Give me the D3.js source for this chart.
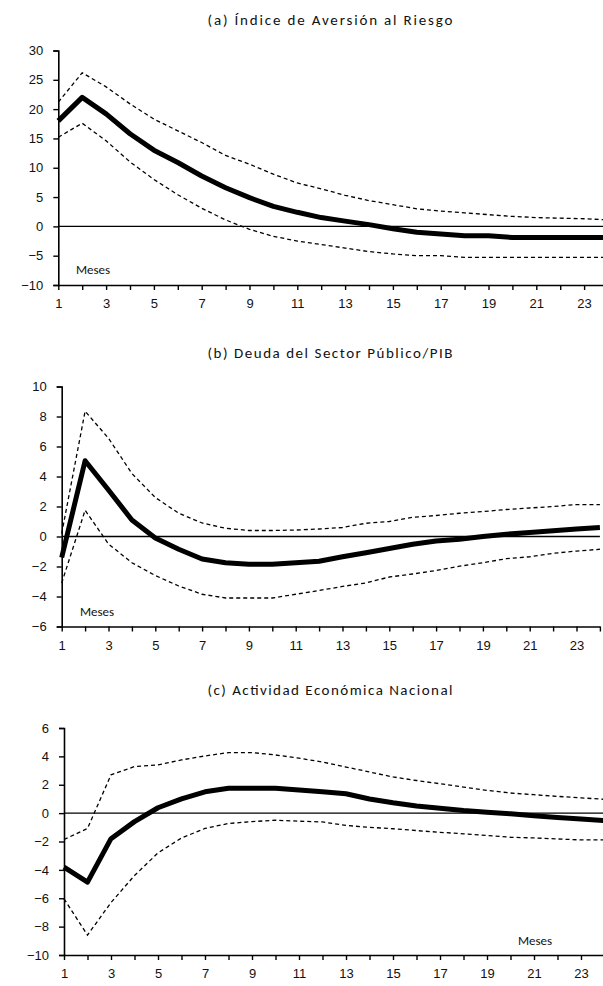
<!DOCTYPE html>
<html>
<head>
<meta charset="utf-8">
<script src="https://cdn.jsdelivr.net/npm/d3@7"></script>
<style>
  body { margin: 0; background: #fff; }
  svg { display: block; font-family: Carlito, 'Open Sans', sans-serif; }
</style>
</head>
<body>
<div id="chart"></div>
<script>
let width = 603
let height = 986

// -- data
let months = [1, 2, 3, 4, 5, 6, 7, 8, 9, 10, 11, 12, 13, 14, 15, 16, 17, 18, 19, 20, 21, 22, 23, 24]
let monthLabels = [1, 3, 5, 7, 9, 11, 13, 15, 17, 19, 21, 23]

let titleA = '(a) Índice de Aversión al Riesgo'
let ticksA = [-10, -5, 0, 5, 10, 15, 20, 25, 30]
let centralA = [18.0, 22.0, 19.2, 15.8, 13.0, 10.9, 8.6, 6.6, 4.9, 3.4, 2.4, 1.5, 0.9, 0.3, -0.4, -1.0, -1.3, -1.6, -1.6, -1.9, -1.9, -1.9, -1.9, -1.9]
let upperA = [21.2, 26.2, 23.8, 20.9, 18.3, 16.3, 14.3, 12.1, 10.6, 8.9, 7.4, 6.4, 5.3, 4.4, 3.7, 3.0, 2.6, 2.3, 2.0, 1.7, 1.5, 1.4, 1.3, 1.1]
let lowerA = [15.2, 17.6, 14.6, 11.0, 8.0, 5.4, 3.1, 1.1, -0.5, -1.7, -2.5, -3.1, -3.7, -4.3, -4.7, -5.0, -5.0, -5.3, -5.3, -5.3, -5.3, -5.3, -5.3, -5.3]

let titleB = '(b) Deuda del Sector Público/PIB'
let ticksB = [-6, -4, -2, 0, 2, 4, 6, 8, 10]
let centralB = [-1.4, 5.05, 3.1, 1.1, -0.1, -0.85, -1.5, -1.75, -1.85, -1.85, -1.75, -1.65, -1.35, -1.08, -0.8, -0.52, -0.3, -0.18, 0.0, 0.15, 0.27, 0.38, 0.5, 0.6]
let upperB = [0.2, 8.35, 6.55, 4.2, 2.6, 1.55, 0.9, 0.55, 0.4, 0.4, 0.43, 0.5, 0.6, 0.88, 1.0, 1.28, 1.4, 1.55, 1.66, 1.8, 1.9, 2.0, 2.13, 2.13]
let lowerB = [-3.1, 1.75, -0.5, -1.75, -2.6, -3.3, -3.85, -4.1, -4.1, -4.1, -3.85, -3.6, -3.33, -3.1, -2.7, -2.5, -2.27, -1.98, -1.75, -1.48, -1.35, -1.12, -0.97, -0.85]

let titleC = '(c) Actividad Económica Nacional'
let ticksC = [-10, -8, -6, -4, -2, 0, 2, 4, 6]
let centralC = [-3.8, -4.86, -1.8, -0.6, 0.38, 1.0, 1.5, 1.75, 1.75, 1.75, 1.63, 1.5, 1.37, 1.0, 0.73, 0.5, 0.35, 0.19, 0.07, -0.05, -0.19, -0.3, -0.42, -0.52]
let upperC = [-1.86, -1.08, 2.7, 3.28, 3.4, 3.75, 4.03, 4.27, 4.27, 4.1, 3.87, 3.6, 3.25, 2.9, 2.55, 2.3, 2.07, 1.84, 1.6, 1.42, 1.3, 1.18, 1.08, 0.97]
let lowerC = [-6.04, -8.6, -6.3, -4.4, -2.8, -1.75, -1.08, -0.73, -0.6, -0.5, -0.57, -0.62, -0.87, -1.0, -1.1, -1.23, -1.35, -1.46, -1.58, -1.7, -1.75, -1.82, -1.89, -1.89]

let svg = d3.select('#chart')
            .append('svg')
            .attr('width', width)
            .attr('height', height)

// -- layout of each panel (pixels)
let panels = [
  { title: titleA, ticks: ticksA, central: centralA, upper: upperA, lower: lowerA,
    left: 58.3, step: 23.9, top: 50.5, bottom: 285, titleY: 24.5, mesesX: 93, mesesY: 274 },
  { title: titleB, ticks: ticksB, central: centralB, upper: upperB, lower: lowerB,
    left: 61.7, step: 23.4, top: 386.5, bottom: 626.5, titleY: 358, mesesX: 97, mesesY: 616 },
  { title: titleC, ticks: ticksC, central: centralC, upper: upperC, lower: lowerC,
    left: 64, step: 23.5, top: 728, bottom: 955, titleY: 695, mesesX: 535, mesesY: 945 }
]

panels.forEach(function(p) {
  let g = svg.append('g')

  let xScale = d3.scaleLinear()
                 .domain([1, 24])
                 .range([p.left, p.left + 23 * p.step])
  let yScale = d3.scaleLinear()
                 .domain([d3.min(p.ticks), d3.max(p.ticks)])
                 .range([p.bottom, p.top])

  // title
  g.append('text')
   .attr('x', 330)
   .attr('y', p.titleY)
   .attr('text-anchor', 'middle')
   .attr('textLength', 245)
   .attr('lengthAdjust', 'spacing')
   .style('font-size', '15px')
   .style('fill', '#111')
   .text(p.title)

  // -- Y axis
  let yAxis = d3.axisLeft(yScale)
                .tickValues(p.ticks)
                .tickSize(5)
                .tickPadding(10)
                .tickFormat(d3.format('d'))
  g.append('g')
   .attr('transform', 'translate(' + p.left + ',0)')
   .call(yAxis)
   .call(a => a.select('.domain').attr('stroke-width', 1.6))
   .call(a => a.selectAll('.tick line').attr('stroke-width', 1.4))
   .call(a => a.selectAll('text').style('font-size', '13px').style('fill', '#111'))

  // -- X axis
  let xAxis = d3.axisBottom(xScale)
                .tickValues(months)
                .tickSize(5)
                .tickPadding(9)
                .tickSizeOuter(0)
                .tickFormat(d => monthLabels.includes(d) ? d : '')
  g.append('g')
   .attr('transform', 'translate(0,' + p.bottom + ')')
   .call(xAxis)
   .call(a => a.select('.domain').attr('stroke-width', 1.6))
   .call(a => a.selectAll('.tick line').attr('stroke-width', 1.4))
   .call(a => a.selectAll('text').style('font-size', '13px').style('fill', '#111'))

  // zero line
  g.append('line')
   .attr('x1', xScale(1))
   .attr('x2', xScale(24))
   .attr('y1', yScale(0))
   .attr('y2', yScale(0))
   .attr('stroke', '#000')
   .attr('stroke-width', 1.3)

  let line = d3.line()
               .x((d, i) => xScale(months[i]))
               .y(d => yScale(d))

  g.append('path')
   .datum(p.upper)
   .attr('d', line)
   .attr('fill', 'none')
   .attr('stroke', '#000')
   .attr('stroke-width', 1.3)
   .attr('stroke-dasharray', '4,3')

  g.append('path')
   .datum(p.lower)
   .attr('d', line)
   .attr('fill', 'none')
   .attr('stroke', '#000')
   .attr('stroke-width', 1.3)
   .attr('stroke-dasharray', '4,3')

  g.append('path')
   .datum(p.central)
   .attr('d', line)
   .attr('fill', 'none')
   .attr('stroke', '#000')
   .attr('stroke-width', 5)
   .attr('stroke-linejoin', 'round')

  g.append('text')
   .attr('x', p.mesesX)
   .attr('y', p.mesesY)
   .attr('text-anchor', 'middle')
   .style('font-size', '13px')
   .style('fill', '#111')
   .text('Meses')
})
</script>
</body>
</html>
